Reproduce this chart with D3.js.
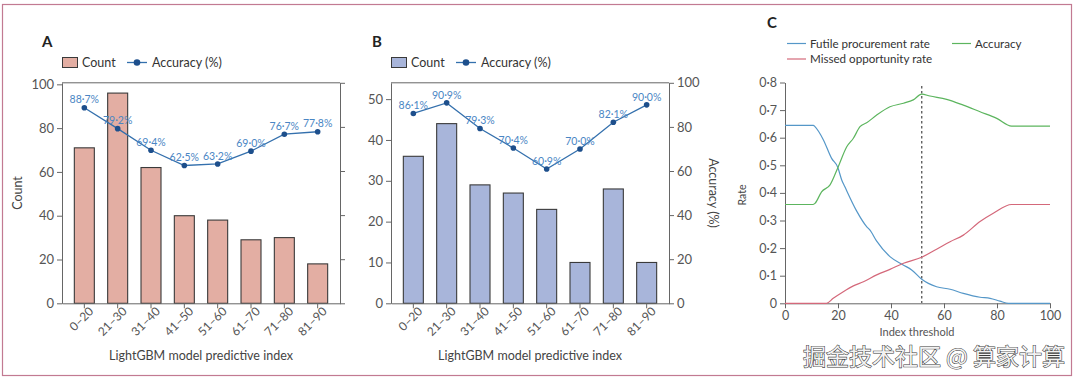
<!DOCTYPE html>
<html><head><meta charset="utf-8">
<script src="https://cdn.jsdelivr.net/npm/d3@7"></script>
<style>
body{margin:0;background:#fff;}
svg{display:block;font-family:Lato,"Open Sans",sans-serif;}
.axis text{fill:#555;font-size:12px;font-family:Lato,sans-serif;}
.axis path,.axis line{stroke:#666;stroke-width:1;}
</style></head>
<body>
<svg id="chart" width="1080" height="380"></svg>
<script>
// ---- data ----
const categories = ["0–20","21–30","31–40","41–50","51–60","61–70","71–80","81–90"];
const countA = [71,96,62,40,38,29,30,18];
const accuracyA = [88.7,79.2,69.4,62.5,63.2,69.0,76.7,77.8];
const countB = [36,44,29,27,23,10,28,10];
const accuracyB = [86.1,90.9,79.3,70.4,60.9,70.0,82.1,90.0];
const countTicksA = [0,20,40,60,80,100];
const countTicksB = [0,10,20,30,40,50];
const accuracyTicks = [0,20,40,60,80,100];

const futileRate = [[0,0.645],[10.7,0.645],[11.3,0.64],[14.5,0.592],[17.6,0.525],[19.9,0.493],[21.4,0.447],[22.6,0.422],[27,0.335],[30.8,0.278],[32,0.266],[34.6,0.225],[39.6,0.169],[44.6,0.139],[47.8,0.121],[51.6,0.087],[57.2,0.06],[62.3,0.051],[67.3,0.036],[73.6,0.022],[77.4,0.018],[81.1,0.008],[84.3,0],[100,0]];
const missedRate = [[0,0],[15.7,0],[18.2,0.018],[22,0.042],[25.8,0.063],[29.6,0.078],[34.6,0.103],[39.6,0.123],[44.7,0.145],[51.6,0.167],[57.2,0.196],[62.3,0.223],[67.3,0.247],[73.6,0.296],[78.6,0.326],[85.5,0.358],[100,0.358]];
const accuracyRate = [[0,0.358],[10.5,0.358],[11.3,0.362],[13.8,0.404],[17,0.429],[20.1,0.495],[23.3,0.567],[25.8,0.598],[28.3,0.64],[30.8,0.654],[34.6,0.682],[39.6,0.712],[44.7,0.725],[48.4,0.737],[51.6,0.758],[54.7,0.751],[61,0.739],[67.3,0.718],[73.6,0.694],[79.9,0.67],[85.5,0.642],[100,0.642]];
const optimalThreshold = 51.6;
const rateTicks = [0,0.1,0.2,0.3,0.4,0.5,0.6,0.7,0.8];
const thresholdTicks = [0,20,40,60,80,100];

const svg = d3.select("#chart");
const fmtPct = v => d3.format(".1f")(v).replace(".", "·") + "%";
const fmtDot = v => v === 0 ? "0" : d3.format(".1f")(v).replace(".", "·");

// frame
svg.append("rect").attr("x",2.5).attr("y",4.5).attr("width",1069).attr("height",371)
  .attr("fill","none").attr("stroke","#c27a92").attr("stroke-width",1.2);

function barPanel(opt){
  const g = svg.append("g");
  const x = d3.scaleBand().domain(categories).range([opt.x0,opt.x1]).paddingInner(0.4).paddingOuter(0.37);
  const y = d3.scaleLinear().domain([0,opt.yMax]).range([303.3,82.8]);
  const yr = d3.scaleLinear().domain([0,100]).range([303.3,82.8]);

  g.append("line").attr("x1",opt.x0).attr("x2",opt.x1).attr("y1",82.8).attr("y2",82.8)
    .attr("stroke","#666");

  g.selectAll("rect.bar").data(opt.counts).join("rect").attr("class","bar")
    .attr("x",(d,i)=>x(categories[i])).attr("width",x.bandwidth())
    .attr("y",d=>y(d)).attr("height",d=>y(0)-y(d))
    .attr("fill",opt.fill).attr("stroke","#3a3a3a").attr("stroke-width",1.1);

  g.append("g").attr("class","axis").attr("transform",`translate(${opt.x0},0)`)
    .call(d3.axisLeft(y).tickValues(opt.countTicks).tickSize(5).tickSizeOuter(0).tickPadding(3))
    .call(a=>a.selectAll("text").style("font-size","13px"));
  const ra = g.append("g").attr("class","axis").attr("transform",`translate(${opt.x1},0)`)
    .call(d3.axisRight(yr).tickValues(accuracyTicks).tickSize(5).tickSizeOuter(0).tickPadding(3)
      .tickFormat(opt.rightLabels ? d3.format("d") : ""));
  ra.selectAll("text").style("font-size","13px");
  const xa = g.append("g").attr("class","axis").attr("transform","translate(0,303.3)")
    .call(d3.axisBottom(x).tickSize(5).tickSizeOuter(0));
  xa.selectAll("text").attr("text-anchor","end").attr("dx","0.15em").attr("dy","0.6em")
    .attr("transform","rotate(-45)").attr("y",6).attr("x",-1);

  const cx = (d,i)=>x(categories[i])+x.bandwidth()/2;
  g.append("path").datum(opt.acc).attr("fill","none").attr("stroke","#3470ad").attr("stroke-width",1.3)
    .attr("d",d3.line().x(cx).y(d=>yr(d)));
  g.selectAll("circle.pt").data(opt.acc).join("circle").attr("class","pt")
    .attr("cx",cx).attr("cy",d=>yr(d)).attr("r",2.8).attr("fill","#1d4f8c");
  g.selectAll("text.lbl").data(opt.acc).join("text").attr("class","lbl")
    .attr("x",cx).attr("y",d=>yr(d)-8).attr("dy","0.35em").attr("text-anchor","middle")
    .attr("fill","#4a86c4").style("font-size","10.5px").text(fmtPct);

  g.append("text").attr("x",(opt.x0+opt.x1)/2).attr("y",360).attr("text-anchor","middle")
    .attr("fill","#444").style("font-size","12.5px").text("LightGBM model predictive index");

  g.append("text").attr("x",opt.letterX).attr("y",47).attr("fill","#222")
    .style("font-size","15px").style("font-weight","bold").text(opt.letter);

  const lg = g.append("g").attr("transform",`translate(${opt.x0},0)`);
  lg.append("rect").attr("x",0.5).attr("y",57.5).attr("width",15).attr("height",10)
    .attr("fill",opt.fill).attr("stroke","#3a3a3a");
  lg.append("text").attr("x",20).attr("y",62.5).attr("dy","0.35em").attr("fill","#333")
    .style("font-size","12.5px").text("Count");
  lg.append("line").attr("x1",opt.legLine).attr("x2",opt.legLine+20).attr("y1",62.5).attr("y2",62.5)
    .attr("stroke","#3470ad").attr("stroke-width",1.3);
  lg.append("circle").attr("cx",opt.legLine+10).attr("cy",62.5).attr("r",3.3).attr("fill","#1d4f8c");
  lg.append("text").attr("x",opt.legLine+25).attr("y",62.5).attr("dy","0.35em").attr("fill","#333")
    .style("font-size","12.5px").text("Accuracy (%)");
  return g;
}

barPanel({x0:62,x1:340,yMax:100.7,counts:countA,acc:accuracyA,fill:"#e3aea3",
  countTicks:countTicksA,rightLabels:false,letter:"A",letterX:42,legLine:65});
barPanel({x0:391,x1:669,yMax:54,counts:countB,acc:accuracyB,fill:"#a8b5da",
  countTicks:countTicksB,rightLabels:true,letter:"B",letterX:372,legLine:65});

svg.append("text").attr("transform","translate(22,193) rotate(-90)").attr("text-anchor","middle")
  .attr("fill","#444").style("font-size","12.5px").text("Count");
svg.append("text").attr("transform","translate(709,193) rotate(90)").attr("text-anchor","middle")
  .attr("fill","#444").style("font-size","12.5px").text("Accuracy (%)");

// ---- panel C ----
const gc = svg.append("g");
const xc = d3.scaleLinear().domain([0,100]).range([785,1050]);
const yc = d3.scaleLinear().domain([0,0.8]).range([303.3,82.5]);
gc.append("g").attr("class","axis").attr("transform","translate(0,303.3)")
  .call(d3.axisBottom(xc).tickValues(thresholdTicks).tickSize(5).tickSizeOuter(0).tickPadding(3))
  .call(a=>a.selectAll("text").style("font-size","12.5px"));
gc.append("g").attr("class","axis").attr("transform","translate(785,0)")
  .call(d3.axisLeft(yc).tickValues(rateTicks).tickFormat(fmtDot).tickSize(5).tickSizeOuter(0).tickPadding(3))
  .call(a=>a.selectAll("text").style("font-size","12.5px"));

gc.append("line").attr("x1",xc(optimalThreshold)).attr("x2",xc(optimalThreshold))
  .attr("y1",86).attr("y2",303).attr("stroke","#555").attr("stroke-width",1.3).attr("stroke-dasharray","2.5,2.5");

const lineC = d3.line().x(d=>xc(d[0])).y(d=>yc(d[1])).curve(d3.curveMonotoneX);
const seriesC = [
  {data:futileRate,color:"#5597c8",name:"Futile procurement rate"},
  {data:missedRate,color:"#d4687a",name:"Missed opportunity rate"},
  {data:accuracyRate,color:"#5cb55e",name:"Accuracy"}
];
seriesC.forEach(s=>{
  gc.append("path").datum(s.data).attr("fill","none").attr("stroke",s.color).attr("stroke-width",1.2).attr("d",lineC);
});

const legC = [
  {s:seriesC[0],x:787,y:43.5},
  {s:seriesC[2],x:952,y:43.5},
  {s:seriesC[1],x:787,y:59}
];
legC.forEach(l=>{
  gc.append("line").attr("x1",l.x).attr("x2",l.x+19).attr("y1",l.y).attr("y2",l.y)
    .attr("stroke",l.s.color).attr("stroke-width",1.2);
  gc.append("text").attr("x",l.x+23).attr("y",l.y).attr("dy","0.35em").attr("fill","#333")
    .style("font-size","11.6px").text(l.s.name);
});
gc.append("text").attr("x",767).attr("y",28).attr("fill","#222")
  .style("font-size","15px").style("font-weight","bold").text("C");
gc.append("text").attr("transform","translate(746,195) rotate(-90)").attr("text-anchor","middle")
  .attr("fill","#444").style("font-size","10.5px").text("Rate");
gc.append("text").attr("x",917).attr("y",336).attr("text-anchor","middle")
  .attr("fill","#555").style("font-size","11px").text("Index threshold");

// watermark
svg.append("text").attr("x",1065).attr("y",365).attr("text-anchor","end")
  .style("font-family","'Noto Sans CJK SC',sans-serif").style("font-size","23px")
  .attr("fill","#f2f2f2").attr("stroke","#3a3a3a").attr("stroke-width",1.1)
  .attr("paint-order","stroke").text("掘金技术社区 @ 算家计算");
</script>
</body></html>
